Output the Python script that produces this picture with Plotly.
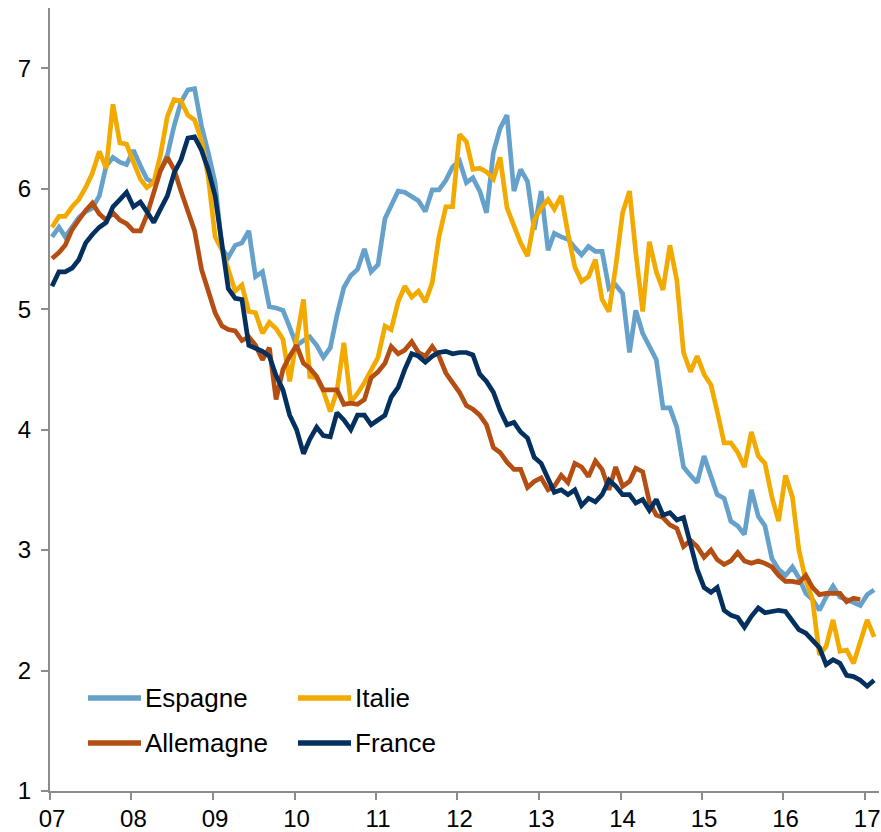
import pandas as pd
import plotly.graph_objects as go

espagne = [5.60, 5.68, 5.60, 5.68, 5.76, 5.81, 5.84, 5.94, 6.19, 6.26, 6.22, 6.20,
           6.32, 6.19, 6.08, 6.05, 6.15, 6.28, 6.52, 6.72, 6.82, 6.83, 6.52, 6.30,
           6.05, 5.50, 5.43, 5.53, 5.55, 5.65, 5.27, 5.31, 5.02, 5.01, 4.99, 4.85,
           4.70, 4.74, 4.77, 4.70, 4.60, 4.68, 4.95, 5.18, 5.28, 5.33, 5.50, 5.31,
           5.37, 5.75, 5.85, 5.98, 5.97, 5.93, 5.90, 5.81, 5.99, 5.99, 6.07, 6.18,
           6.23, 6.05, 6.09, 5.98, 5.80, 6.30, 6.50, 6.61, 5.98, 6.16, 6.06, 5.66,
           5.98, 5.49, 5.63, 5.60, 5.58, 5.51, 5.45, 5.52, 5.48, 5.48, 5.17, 5.20,
           5.13, 4.64, 4.99, 4.80, 4.70, 4.58, 4.18, 4.18, 4.02, 3.69, 3.62, 3.56,
           3.78, 3.61, 3.46, 3.43, 3.24, 3.20, 3.13, 3.50, 3.28, 3.20, 2.93, 2.84,
           2.79, 2.86, 2.77, 2.64, 2.59, 2.50, 2.61, 2.70, 2.61, 2.59, 2.56, 2.54,
           2.63, 2.67]

italie = [5.68, 5.77, 5.77, 5.85, 5.91, 6.01, 6.13, 6.31, 6.17, 6.70, 6.38, 6.37,
          6.22, 6.08, 6.01, 6.05, 6.28, 6.60, 6.74, 6.73, 6.61, 6.57, 6.40, 6.10,
          5.60, 5.49, 5.33, 5.15, 5.20, 4.98, 4.97, 4.80, 4.89, 4.84, 4.75, 4.40,
          4.75, 5.08, 4.44, 4.43, 4.32, 4.15, 4.32, 4.72, 4.23, 4.30, 4.39, 4.50,
          4.60, 4.86, 4.83, 5.06, 5.19, 5.10, 5.15, 5.06, 5.22, 5.60, 5.85, 5.85,
          6.45, 6.39, 6.16, 6.17, 6.14, 6.08, 6.26, 5.84, 5.69, 5.55, 5.44, 5.74,
          5.84, 5.91, 5.83, 5.94, 5.63, 5.35, 5.23, 5.27, 5.41, 5.08, 4.98, 5.35,
          5.80, 5.98, 5.47, 4.98, 5.56, 5.31, 5.16, 5.53, 5.24, 4.64, 4.48, 4.61,
          4.46, 4.37, 4.15, 3.89, 3.89, 3.81, 3.69, 3.98, 3.78, 3.72, 3.44, 3.24,
          3.62, 3.44, 3.00, 2.75, 2.59, 2.13, 2.20, 2.42, 2.16, 2.17, 2.06, 2.25,
          2.42, 2.28]

allemagne = [5.42, 5.47, 5.53, 5.66, 5.74, 5.82, 5.88, 5.79, 5.74, 5.80, 5.74, 5.71,
             5.65, 5.65, 5.78, 5.97, 6.15, 6.26, 6.16, 5.98, 5.80, 5.65, 5.33, 5.14,
             4.97, 4.86, 4.83, 4.82, 4.74, 4.77, 4.70, 4.58, 4.68, 4.25, 4.50, 4.61,
             4.70, 4.55, 4.51, 4.44, 4.33, 4.33, 4.33, 4.21, 4.22, 4.21, 4.25, 4.43,
             4.48, 4.55, 4.69, 4.63, 4.66, 4.73, 4.64, 4.61, 4.69, 4.61, 4.47, 4.39,
             4.31, 4.20, 4.17, 4.12, 4.04, 3.85, 3.81, 3.73, 3.67, 3.67, 3.52, 3.57,
             3.60, 3.50, 3.53, 3.62, 3.56, 3.72, 3.69, 3.61, 3.74, 3.67, 3.50, 3.69,
             3.53, 3.57, 3.68, 3.65, 3.40, 3.29, 3.27, 3.21, 3.18, 3.03, 3.08, 3.03,
             2.94, 3.00, 2.92, 2.88, 2.91, 2.98, 2.91, 2.89, 2.91, 2.89, 2.86, 2.79,
             2.74, 2.74, 2.73, 2.79, 2.69, 2.63, 2.64, 2.64, 2.64, 2.57, 2.60, 2.59]

france = [5.19, 5.31, 5.31, 5.34, 5.41, 5.55, 5.62, 5.68, 5.72, 5.85, 5.91, 5.97,
          5.85, 5.89, 5.81, 5.72, 5.83, 5.94, 6.13, 6.24, 6.42, 6.43, 6.32, 6.16,
          5.94, 5.55, 5.17, 5.09, 5.08, 4.70, 4.68, 4.65, 4.61, 4.45, 4.33, 4.12,
          4.00, 3.80, 3.92, 4.02, 3.95, 3.94, 4.14, 4.08, 4.00, 4.12, 4.12, 4.04,
          4.08, 4.12, 4.27, 4.35, 4.50, 4.63, 4.61, 4.56, 4.61, 4.64, 4.65, 4.63,
          4.64, 4.64, 4.62, 4.46, 4.40, 4.31, 4.16, 4.04, 4.06, 3.98, 3.93, 3.77,
          3.72, 3.60, 3.48, 3.50, 3.46, 3.50, 3.37, 3.43, 3.40, 3.46, 3.58, 3.53,
          3.46, 3.46, 3.39, 3.42, 3.33, 3.42, 3.29, 3.31, 3.25, 3.27, 3.06, 2.84,
          2.69, 2.65, 2.69, 2.50, 2.46, 2.44, 2.36, 2.45, 2.52, 2.48, 2.49, 2.50,
          2.49, 2.41, 2.34, 2.31, 2.25, 2.19, 2.05, 2.09, 2.06, 1.96, 1.95, 1.92,
          1.87, 1.92]

series_names = ["Espagne", "Italie", "Allemagne", "France"]
series_values = [espagne, italie, allemagne, france]
colors = ["#65A1CB", "#F2AA00", "#B44E12", "#03305E"]

months = pd.date_range("2007-01-01", periods=122, freq="MS") + pd.Timedelta(days=9)

tick_years = list(range(2007, 2018))
tick_dates = [pd.Timestamp(f"{y}-01-01") for y in tick_years]
tick_labels = [f"{y % 100:02d}" for y in tick_years]
y_ticks = [1, 2, 3, 4, 5, 6, 7]

FONT = "Liberation Sans, Arial, sans-serif"

fig = go.Figure()
for name, vals, col in zip(series_names, series_values, colors):
    fig.add_trace(go.Scatter(
        x=months[:len(vals)], y=vals, mode="lines", name=name,
        line=dict(color=col, width=4.7), showlegend=False,
    ))

W, H = 881, 832
ml, mr, mt, mb = 50, 2, 8, 41
pw, ph = W - ml - mr, H - mt - mb


def px(x):
    return (x - ml) / pw


def py(y):
    return (H - mb - y) / ph


# manual legend (2 columns x 2 rows)
legend_pos = [(88, 698), (298, 698), (88, 743), (298, 743)]
shapes = []
annotations = []
for name, col, (lx, ly) in zip(series_names, colors, legend_pos):
    shapes.append(dict(type="line", xref="paper", yref="paper",
                       x0=px(lx), x1=px(lx + 53), y0=py(ly), y1=py(ly),
                       line=dict(color=col, width=5.5)))
    annotations.append(dict(xref="paper", yref="paper", x=px(lx + 55), y=py(ly),
                            xanchor="left", yanchor="middle", text=name,
                            showarrow=False,
                            font=dict(family=FONT, size=26, color="#000000")))

fig.update_layout(
    width=W, height=H,
    margin=dict(l=ml, r=mr, t=mt, b=mb, autoexpand=False),
    paper_bgcolor="white", plot_bgcolor="white",
    font=dict(family=FONT, size=24, color="#000000"),
    shapes=shapes, annotations=annotations,
    showlegend=False,
)
fig.update_xaxes(
    range=["2007-01-01", "2017-03-04"],
    tickvals=tick_dates, ticktext=tick_labels,
    showgrid=False, zeroline=False, automargin=False,
    showline=True, linecolor="#8C8C8C", linewidth=2,
    ticks="outside", ticklen=7, tickwidth=2, tickcolor="#8C8C8C",
    tickfont=dict(family=FONT, size=24, color="#000000"),
    ticklabelshift=2, ticklabelstandoff=-2, ticklabeloverflow="allow",
)
fig.update_yaxes(
    range=[1, 7.5], tickvals=y_ticks,
    showgrid=False, zeroline=False, automargin=False,
    showline=True, linecolor="#8C8C8C", linewidth=2,
    ticks="outside", ticklen=7, tickwidth=2, tickcolor="#8C8C8C",
    tickfont=dict(family=FONT, size=24, color="#000000"),
    ticklabelstandoff=5, ticklabeloverflow="allow",
)

fig.write_html(
    "out.html",
    config={"displayModeBar": False},
    post_script="document.body.style.margin='0';document.body.style.padding='0';",
)
